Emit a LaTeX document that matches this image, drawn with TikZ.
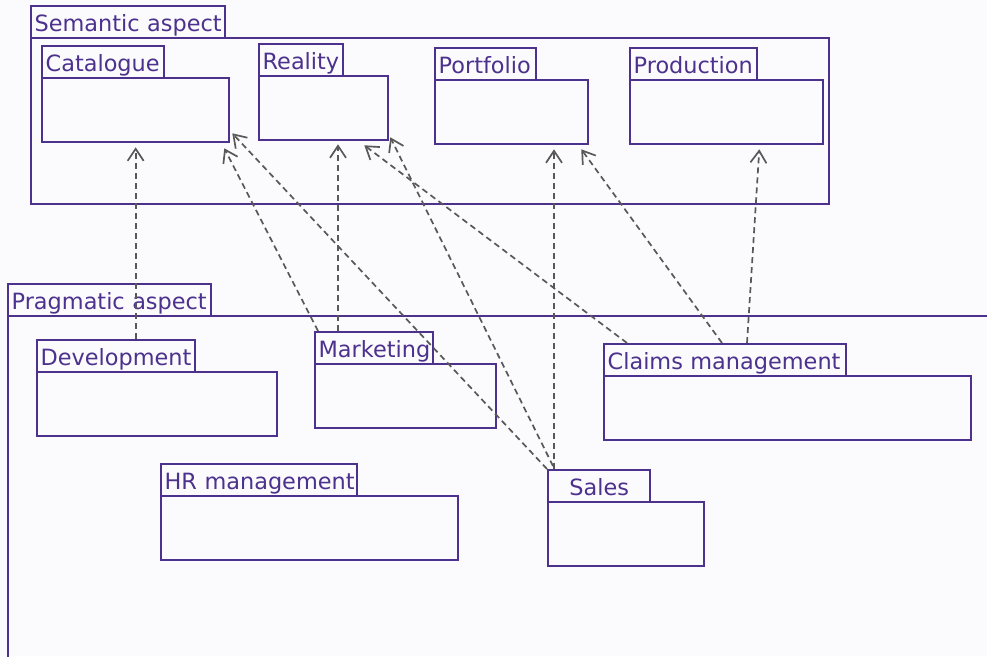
\documentclass[tikz,border=0pt]{standalone}
\usepackage{fontspec}
\setmainfont{DejaVu Sans}
\usetikzlibrary{arrows.meta,calc}
\definecolor{pkgline}{HTML}{4C318D}
\definecolor{deparrow}{HTML}{585858}
\definecolor{canvas}{HTML}{FBFBFD}

\begin{document}
\begin{tikzpicture}[x=1pt,y=-1pt,
  pkg/.style={draw=pkgline, line width=2.3pt, anchor=north west, inner sep=0pt},
  tab/.style={pkg, inner xsep=3.5pt, inner ysep=0pt, minimum height=32pt,
    text width=#1, align=left, text height=20pt, text depth=2pt,
    text=pkgline, font=\fontsize{22.4}{24}\selectfont},
  ctab/.style={tab=#1, align=center},
  body/.style={pkg, minimum height=64pt},
  dep/.style={draw=deparrow, line width=1.7pt, dash pattern=on 6pt off 4pt,
    -{Straight Barb[length=12pt,width=16pt,line width=1.7pt]}},
]
\useasboundingbox[fill=canvas] (0,0) rectangle (987,656);

% ---- Semantic aspect container ----
\node[tab=187pt] (semT) at (30,5) {\mbox{Semantic aspect}};
\node[body, minimum width=798pt, minimum height=166pt] (sem) at (30,37) {};

% ---- Pragmatic aspect container (runs past the right and bottom edges) ----
\node[tab=196pt] (praT) at (7,283) {\mbox{Pragmatic aspect}};
\node[body, minimum width=1020pt, minimum height=400pt] (pra) at (7,315) {};

% ---- semantic packages ----
\node[tab=115pt] (catT) at (41,45) {\mbox{Catalogue}};
\node[body, minimum width=187pt] (cat) at (41,77) {};

\node[tab=77pt] (reaT) at (258,43) {\mbox{Reality}};
\node[body, minimum width=129pt] (rea) at (258,75) {};

\node[tab=94pt] (porT) at (434,47) {\mbox{Portfolio}};
\node[body, minimum width=153pt] (por) at (434,79) {};

\node[tab=120pt] (proT) at (629,47) {\mbox{Production}};
\node[body, minimum width=193pt] (pro) at (629,79) {};

% ---- pragmatic packages ----
\node[tab=151pt] (devT) at (36,339) {\mbox{Development}};
\node[body, minimum width=240pt] (dev) at (36,371) {};

\node[tab=111pt] (mktT) at (314,331) {\mbox{Marketing}};
\node[body, minimum width=181pt] (mkt) at (314,363) {};

\node[tab=235pt] (clmT) at (603,343) {\mbox{Claims management}};
\node[body, minimum width=367pt] (clm) at (603,375) {};

\node[tab=189pt] (hrmT) at (160,463) {\mbox{HR management}};
\node[body, minimum width=297pt] (hrm) at (160,495) {};

\node[ctab=95pt] (salT) at (547,469) {\mbox{Sales}};
\node[body, minimum width=156pt] (sal) at (547,501) {};

% ---- dependencies ----
\draw[dep] (devT.north -| cat.south) -- ($(cat.south)+(0,4)$);

\draw[dep] ($(mktT.north west)+(4,0)$) -- ($(cat.south east)+(-6,5)$);
\draw[dep] (salT.north west) -- ($(cat.south east)+(2,-10)$);

\draw[dep] ($(mktT.north west)+(24,0)$) coordinate (m1)
  -- ($(m1 |- rea.south)+(0,3)$);
\draw[dep] ($(salT.north west)+(6,-3)$) -- ($(rea.south east)+(1,-4)$);
\draw[dep] ($(clmT.north west)+(24,0)$) -- ($(rea.south east)+(-25,4)$);

\draw[dep] ($(salT.north west)+(7,0)$) coordinate (s1)
  -- ($(s1 |- por.south)+(0,4)$);
\draw[dep] ($(clmT.north west)+(119,0)$) -- ($(por.south east)+(-8,4)$);

\draw[dep] ($(clmT.north west)+(144,0)$) -- ($(pro.south east)+(-65,4)$);
\end{tikzpicture}
\end{document}
